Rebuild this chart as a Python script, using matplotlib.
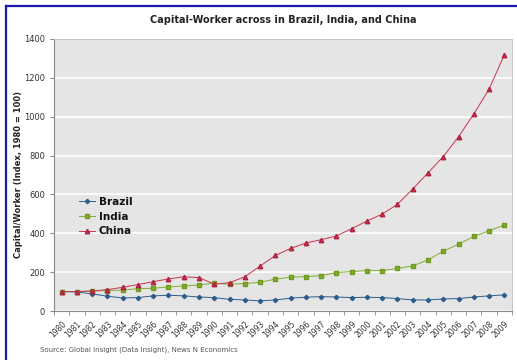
import numpy as np
import matplotlib.pyplot as plt
from matplotlib.lines import Line2D

# Capital per worker index (1980 = 100)
years = [str(y) for y in range(1980, 2010)]
brazil = [100, 98, 88, 76, 67, 69, 78, 81, 78, 72,
          69, 60, 57, 52, 57, 66, 71, 74, 72, 69,
          71, 69, 64, 57, 57, 62, 64, 72, 78, 83]
india = [100, 100, 103, 105, 108, 115, 117, 124, 129, 134,
         143, 138, 141, 148, 164, 174, 177, 182, 198, 203,
         208, 208, 219, 232, 263, 308, 344, 384, 413, 443]
china = [100, 100, 103, 110, 122, 136, 151, 165, 176, 172,
         138, 146, 176, 231, 286, 322, 350, 367, 386, 424,
         463, 499, 549, 628, 711, 795, 897, 1014, 1142, 1319]
y_ticks = [0, 200, 400, 600, 800, 1000, 1200, 1400]

fig = plt.figure(figsize=(5.17, 3.6), dpi=100)
ax = fig.add_axes([0.1044, 0.1361, 0.8859, 0.7556])
ax.set_facecolor('#e5e5e5')

x = np.arange(len(years))
ax.plot(x, brazil, '-D', color='#2b5d8c', ms=2.2, lw=0.7, label='Brazil')
ax.plot(x, india, '-s', color='#82ac2c', mec='#6f9a1f', ms=3, lw=0.7, label='India')
ax.plot(x, china, '-^', color='#c8344e', mec='#b02040', ms=3.2, lw=0.7, label='China')

ax.set_xlim(-0.5, len(years) - 0.5)
ax.set_ylim(0, 1400)
ax.set_yticks(y_ticks)
ax.set_yticklabels([str(v) for v in y_ticks])
ax.yaxis.grid(True, color='white', lw=1.2)
ax.set_axisbelow(True)

# category labels centred, tick marks between categories
ax.set_xticks(x)
ax.set_xticklabels(years, rotation=45, ha='right', va='top',
                   rotation_mode='anchor', fontsize=5.5, color='#333333')
ax.tick_params(axis='x', length=0, pad=6)
ax.set_xticks(np.arange(-0.5, len(years)), minor=True)
ax.tick_params(axis='x', which='minor', length=3, color='#888888', direction='out')
ax.tick_params(axis='y', length=3, color='#888888', labelsize=6, labelcolor='#333333')

for side in ['top', 'right']:
    ax.spines[side].set_color('#c8c8c8')
    ax.spines[side].set_linewidth(0.8)
for side in ['left', 'bottom']:
    ax.spines[side].set_color('#888888')
    ax.spines[side].set_linewidth(0.8)

ax.set_ylabel('Capital/Worker (Index, 1980 = 100)', fontsize=6, fontweight='bold',
              color='#222222')
ax.yaxis.set_label_coords(-0.068, 0.5)
fig.text(0.548, 0.944, 'Capital-Worker across in Brazil, India, and China',
         ha='center', va='center', fontsize=7, fontweight='bold', color='#222222')
fig.text(0.077, 0.028, 'Source: Global Insight (Data Insight), News N Economics',
         ha='left', va='center', fontsize=5, color='#555555')

leg = ax.legend(loc='upper left', bbox_to_anchor=(0.045, 0.435), frameon=False,
                fontsize=7.5, handlelength=1.6, handletextpad=0.3, labelspacing=0.45,
                borderaxespad=0)
for t in leg.get_texts():
    t.set_fontweight('bold')
    t.set_color('#111111')

# blue frame on top and left edges
fig.add_artist(Line2D([0.0116, 1.0], [0.983, 0.983], transform=fig.transFigure,
                      color='#1a1aa8', lw=1.6))
fig.add_artist(Line2D([0.0116, 0.0116], [0.0, 0.983], transform=fig.transFigure,
                      color='#1a1aa8', lw=1.6))

fig.savefig('out.png', dpi=100)
